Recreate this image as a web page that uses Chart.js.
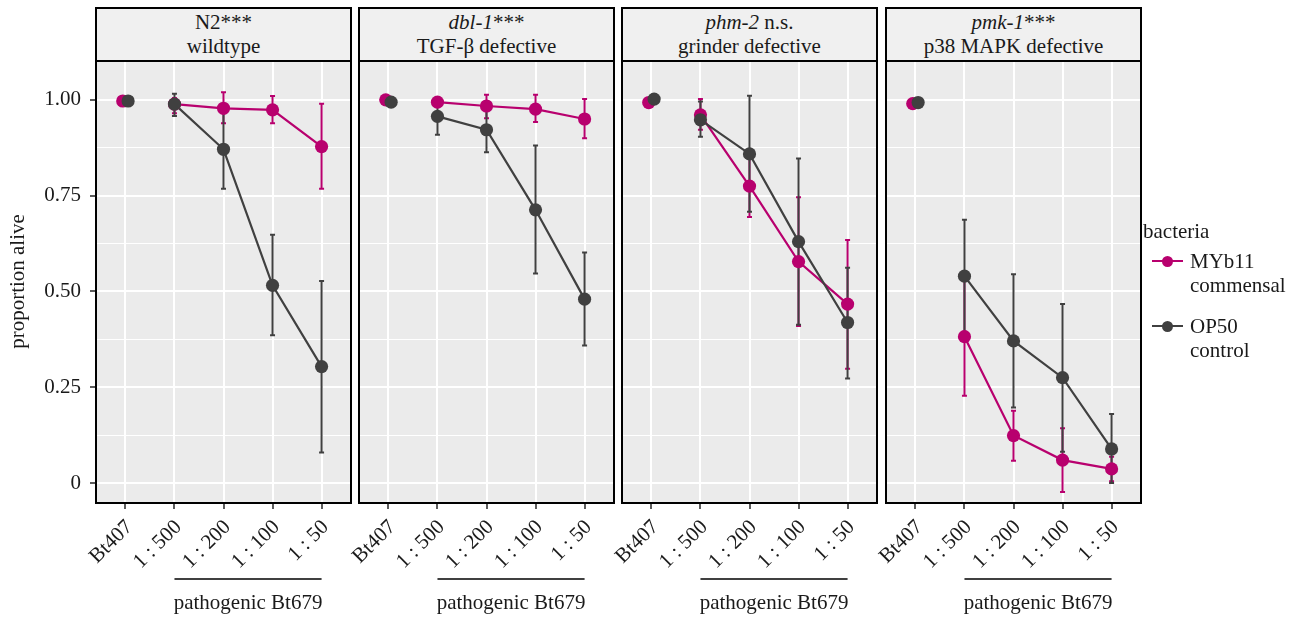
<!DOCTYPE html>
<html><head><meta charset="utf-8">
<script src="https://cdn.jsdelivr.net/npm/chart.js@4"></script>
<style>
body{margin:0;width:1301px;height:618px;background:#fff;overflow:hidden;font-family:"Liberation Serif","Times New Roman",serif;color:#1a1a1a;}
canvas{position:absolute;left:0;top:0;}
.strip{position:absolute;top:7px;height:55px;background:#F0F0F0;border:2px solid #000;box-sizing:border-box;text-align:center;font-size:21px;line-height:24px;display:flex;flex-direction:column;justify-content:center;padding-bottom:2px;}
.leg{position:absolute;font-size:21px;line-height:24px;white-space:nowrap;}
.legline{position:absolute;width:31px;height:2px;}
.legdot{position:absolute;width:11px;height:11px;border-radius:50%;}
</style></head>
<body>
<div id="root"></div>
<script>
// ---- data ----
const categories = ['Bt407','1 : 500','1 : 200','1 : 100','1 : 50'];
const strainNames = ['N2','dbl-1','phm-2','pmk-1'];
const strainItalic = [false,true,true,true];
const strainMarks = ['***','***',' n.s.','***'];
const strainTypes = ['wildtype','TGF-β defective','grinder defective','p38 MAPK defective'];
const seriesNames = ['MYb11','OP50'];
const seriesSub = ['commensal','control'];
const yTicks = [0,0.25,0.5,0.75,1];
const yTickLabels = ['0','0.25','0.50','0.75','1.00'];
const yMinorTicks = [0.125,0.375,0.625,0.875];
const xSpanLabel = 'pathogenic Bt679';

const myb11Mean = [
 [0.997,0.989,0.978,0.974,0.878],
 [1.000,0.994,0.984,0.976,0.950],
 [0.993,0.961,0.775,0.578,0.467],
 [0.990,0.382,0.124,0.060,0.037]];
const myb11Low = [
 [null,0.965,0.939,0.939,0.768],
 [null,0.982,0.952,0.942,0.900],
 [null,0.922,0.694,0.410,0.298],
 [null,0.228,0.058,-0.023,0.005]];
const myb11High = [
 [null,1.005,1.020,1.010,0.990],
 [null,1.004,1.013,1.013,1.002],
 [null,1.002,0.856,0.746,0.634],
 [null,0.536,0.189,0.143,0.069]];
const op50Mean = [
 [0.997,0.989,0.871,0.516,0.304],
 [0.994,0.957,0.922,0.713,0.480],
 [1.002,0.948,0.859,0.630,0.419],
 [0.993,0.540,0.371,0.275,0.089]];
const op50Low = [
 [null,0.958,0.768,0.386,0.080],
 [null,0.909,0.863,0.547,0.359],
 [null,0.904,0.708,0.413,0.273],
 [null,0.395,0.197,0.082,0.000]];
const op50High = [
 [null,1.016,0.974,0.648,0.527],
 [null,1.004,0.980,0.881,0.602],
 [null,0.996,1.011,0.847,0.562],
 [null,0.687,0.545,0.467,0.180]];

// ---- layout / style ----
const W = 1301, H = 618;
const colors = ['#B8006E','#404040'];
const panelLeft = [96, 359, 622, 886];
const panelWidth = 255;
const plotTop = 60, xAxisH = 115;
const FONT = '"Liberation Serif","Times New Roman",serif';
const FS = 21;
const dodgeBt = [-0.055, 0.055];

const root = document.getElementById('root');
const series = [
  {mean: myb11Mean, lo: myb11Low, hi: myb11High},
  {mean: op50Mean, lo: op50Low, hi: op50High}
];

function xOf(i, s){ return i + (i === 0 ? dodgeBt[s] : 0); }

function makePanel(k){
  const cv = document.createElement('canvas');
  cv.width = W; cv.height = H;
  root.appendChild(cv);
  const L = panelLeft[k], R = L + panelWidth;
  const first = k === 0;

  // strip
  const st = document.createElement('div');
  st.className = 'strip';
  st.style.left = (L - 1) + 'px';
  st.style.width = (panelWidth + 2) + 'px';
  const nm = strainItalic[k] ? '<i>' + strainNames[k] + '</i>' : strainNames[k];
  st.innerHTML = '<div>' + nm + strainMarks[k] + '</div><div>' + strainTypes[k] + '</div>';
  root.appendChild(st);

  const datasets = [];
  series.forEach((s, si) => {
    datasets.push({
      type:'line', order: 4 - si,
      data: s.mean[k].map((v,i)=>({x:i, y:v})).slice(1),
      borderColor: colors[si], borderWidth: 2.2, pointRadius: 0, fill:false, tension:0
    });
  });
  series.forEach((s, si) => {
    datasets.push({
      type:'line', order: 2 - si, showLine:false,
      data: s.mean[k].map((v,i)=>({x:xOf(i,si), y:v})),
      backgroundColor: colors[si], borderColor: colors[si], borderWidth:0,
      pointRadius: 6.6, pointBorderWidth:0
    });
  });

  const panelPlugin = {
    id:'panel'+k,
    beforeDraw(chart){
      const a = chart.chartArea, c = chart.ctx;
      c.save(); c.fillStyle = '#EBEBEB';
      c.fillRect(a.left, a.top, a.right - a.left, a.bottom - a.top);
      c.restore();
    },
    beforeDatasetsDraw(chart){
      const c = chart.ctx, x = chart.scales.x, y = chart.scales.y;
      series.forEach((s, si) => {
        c.save(); c.strokeStyle = colors[si]; c.lineWidth = 2;
        s.lo[k].forEach((lo, i) => {
          const hi = s.hi[k][i];
          if (lo == null || hi == null) return;
          const px = x.getPixelForValue(xOf(i, si));
          const y1 = y.getPixelForValue(lo), y2 = y.getPixelForValue(hi);
          c.beginPath();
          c.moveTo(px, y1); c.lineTo(px, y2);
          c.moveTo(px - 2.5, y1); c.lineTo(px + 2.5, y1);
          c.moveTo(px - 2.5, y2); c.lineTo(px + 2.5, y2);
          c.stroke();
        });
        c.restore();
      });
    },
    afterDraw(chart){
      const a = chart.chartArea, c = chart.ctx, x = chart.scales.x;
      c.save();
      c.strokeStyle = '#000'; c.lineWidth = 2;
      c.strokeRect(a.left, a.top, a.right - a.left, a.bottom - a.top);
      const x1 = x.getPixelForValue(1), x2 = x.getPixelForValue(4);
      c.lineWidth = 1.6;
      c.beginPath(); c.moveTo(x1, 579); c.lineTo(x2, 579); c.stroke();
      c.fillStyle = '#1a1a1a';
      c.font = FS + 'px ' + FONT;
      c.textAlign = 'center'; c.textBaseline = 'middle';
      c.fillText(xSpanLabel, (x1 + x2) / 2, 603);
      c.restore();
    }
  };

  new Chart(cv, {
    type:'line',
    data:{datasets},
    plugins:[panelPlugin],
    options:{
      responsive:false, animation:false, devicePixelRatio:1, events:[],
      layout:{padding:{left: first ? 0 : L, right: W - R, top: plotTop, bottom: 0}},
      plugins:{legend:{display:false}, tooltip:{enabled:false}},
      scales:{
        x:{
          type:'linear', min:-0.6, max:4.6,
          afterBuildTicks: s => { s.ticks = categories.map((c,i)=>({value:i})); },
          afterFit: s => { s.height = xAxisH; },
          grid:{color:'#FFFFFF', lineWidth:2, tickColor:'#333', tickLength:6, tickWidth:1.6},
          border:{display:false},
          ticks:{
            autoSkip:false, minRotation:45, maxRotation:45, padding:6, labelOffset:4,
            color:'#1a1a1a', font:{family:FONT, size:FS},
            callback: v => categories[v]
          }
        },
        y:{
          type:'linear', min:-0.052, max:1.104,
          afterBuildTicks: s => { s.ticks = yTicks.concat(yMinorTicks).sort((a,b)=>a-b).map(v=>({value:v})); },
          afterFit: s => { s.width = first ? L : 0; },
          grid:{
            color:'#FFFFFF',
            lineWidth: c => (yTicks.indexOf(c.tick && c.tick.value) >= 0 ? 2 : 1.1),
            tickColor: c => (yTicks.indexOf(c.tick && c.tick.value) >= 0 ? '#333' : 'rgba(0,0,0,0)'),
            tickLength:6, tickWidth:1.6, drawTicks: first
          },
          border:{display:false},
          title:{display:first, text:'proportion alive', color:'#1a1a1a', font:{family:FONT, size:FS}, padding:{top:6, bottom:0}},
          ticks:{
            display:first, padding:9, color:'#1a1a1a', font:{family:FONT, size:FS},
            callback: v => { const j = yTicks.indexOf(v); return j >= 0 ? yTickLabels[j] : ''; }
          }
        }
      }
    }
  });
}

for (let k = 0; k < 4; k++) makePanel(k);

// legend
function addLeg(html, left, top, cls){
  const d = document.createElement('div');
  d.className = cls || 'leg'; d.style.left = left + 'px'; d.style.top = top + 'px';
  d.innerHTML = html; root.appendChild(d); return d;
}
addLeg('bacteria', 1143, 219);
const legRowY = [261, 326];
seriesNames.forEach((n, i) => {
  const yc = legRowY[i];
  const ln = addLeg('', 1152, yc - 1, 'legline'); ln.style.background = colors[i];
  const dt = addLeg('', 1162, yc - 5.5, 'legdot'); dt.style.background = colors[i];
  addLeg(n + '<br>' + seriesSub[i], 1190, yc - 12);
});
</script>
</body></html>
